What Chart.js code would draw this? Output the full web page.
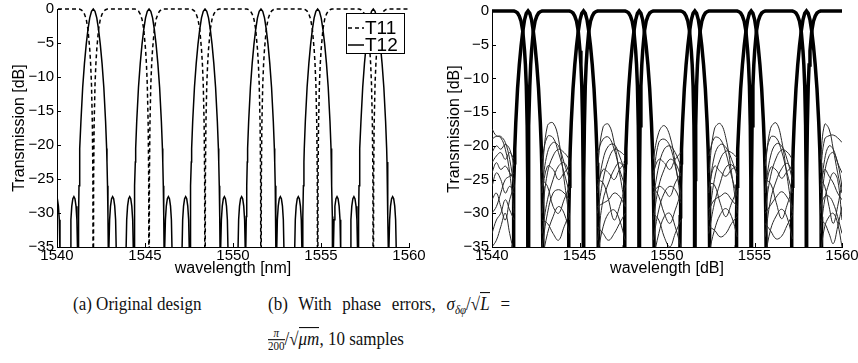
<!DOCTYPE html>
<html>
<head>
<meta charset="utf-8">
<script src="https://cdn.jsdelivr.net/npm/chart.js@4.4.1/dist/chart.umd.min.js"></script>
<style>
  body { margin: 0; background: #fff; }
  #page { position: relative; width: 858px; height: 363px; overflow: hidden; background: #fff; }
  #left { position: absolute; left: 0; top: 0; }
  #right { position: absolute; left: 430px; top: 0; }
  .cap { position: absolute; font-family: "Liberation Serif", "DejaVu Serif", serif; font-size: 17px; line-height: 22px; color: #111; white-space: nowrap; transform: scale(1, 1.1); transform-origin: 0 0; }
  #capA { left: 73px; top: 292px; }
  #capB1 { left: 268px; top: 292px; width: 242px; text-align: justify; text-align-last: justify; }
  #capB2 { left: 268px; top: 327px; }
  .frac { display: inline-block; vertical-align: -5px; text-align: center; font-size: 11px; line-height: 11px; }
  .frac span { display: block; }
  .frac .den { border-top: 1px solid #111; }
  .ol { border-top: 1px solid #111; }
</style>
</head>
<body>
<div id="page">
  <canvas id="left" width="430" height="285"></canvas>
  <canvas id="right" width="428" height="285"></canvas>
  <div class="cap" id="capA">(a) Original design</div>
  <div class="cap" id="capB1">(b) With phase errors, <i>σ</i><sub style="font-size:11px"><i>δφ</i></sub>/√<span class="ol"><i>L</i></span> =</div>
  <div class="cap" id="capB2"><span class="frac"><span><i>π</i></span><span class="den">200</span></span>/√<span class="ol"><i>μm</i></span>, 10 samples</div>
</div>
<script>
// axis ticks
const xTicks = [1540, 1545, 1550, 1555, 1560];
const yTicks = [0, -5, -10, -15, -20, -25, -30, -35];

// passband centres (nm)
const peakWl = [1538.86, 1542.06, 1545.23, 1548.41, 1551.59, 1554.81, 1557.97];

// T12 lobe around each centre: offset (nm) and level (dB)
const t12Dx = [-1.35, -1.31, -1.27, -1.22, -1.16, -1.10, -1.04, -0.98, -0.93, -0.89,
  -0.87, -0.852, -0.835, -0.81, -0.78, -0.76, -0.70, -0.60, -0.50, -0.40,
  -0.30, -0.20, -0.10, 0, 0.10, 0.20, 0.30, 0.40, 0.50, 0.60,
  0.70, 0.76, 0.78, 0.81, 0.835, 0.852, 0.87, 0.89, 0.93, 0.98,
  1.04, 1.10, 1.16, 1.22, 1.27, 1.31, 1.35];
const t12Db = [-60, -36, -31, -29, -27.9, -27.6, -27.9, -29, -31, -36,
  -60, -35, -30.5, -26, -22.5, -20.5, -16.5, -11.5, -8.0, -5.2,
  -3.0, -1.3, -0.35, 0, -0.35, -1.3, -3.0, -5.2, -8.0, -11.5,
  -16.5, -20.5, -22.5, -26, -30.5, -35, -60, -36, -31, -29,
  -27.9, -27.6, -27.9, -29, -31, -36, -60];

// main lobe only (phase-error plot)
const mainDx = [-0.87, -0.852, -0.835, -0.81, -0.78, -0.76, -0.70, -0.60, -0.50, -0.40,
  -0.30, -0.20, -0.10, 0, 0.10, 0.20, 0.30, 0.40, 0.50, 0.60,
  0.70, 0.76, 0.78, 0.81, 0.835, 0.852, 0.87];
const mainDb = [-60, -35, -30.5, -26, -22.5, -20.5, -16.5, -11.5, -8.0, -5.2,
  -3.0, -1.3, -0.35, 0, -0.35, -1.3, -3.0, -5.2, -8.0, -11.5,
  -16.5, -20.5, -22.5, -26, -30.5, -35, -60];

// T11 notch around each centre
const t11Dx = [-0.80, -0.70, -0.60, -0.50, -0.40, -0.30, -0.20, -0.15, -0.10, -0.05, -0.02, 0,
  0.02, 0.05, 0.10, 0.15, 0.20, 0.30, 0.40, 0.50, 0.60, 0.70, 0.80];
const t11Db = [0, -0.1, -0.3, -0.75, -1.5, -3.0, -5.9, -8.0, -11.1, -17, -25, -60,
  -25, -17, -11.1, -8.0, -5.9, -3.0, -1.5, -0.75, -0.3, -0.1, 0];

// stop-band wavelengths between passbands (phase-error plot)
const gapWl = [
  [1540.00, 1540.25, 1540.50, 1540.76, 1541.01, 1541.26],
  [1542.86, 1543.17, 1543.49, 1543.80, 1544.12, 1544.43],
  [1546.03, 1546.35, 1546.66, 1546.98, 1547.29, 1547.61],
  [1549.21, 1549.53, 1549.84, 1550.16, 1550.47, 1550.79],
  [1552.39, 1552.71, 1553.04, 1553.36, 1553.69, 1554.01],
  [1555.61, 1555.92, 1556.24, 1556.55, 1556.86, 1557.17],
  [1558.77, 1559.01, 1559.26, 1559.50, 1559.75, 1560.00]
];

// sidelobe levels of the 10 samples in each stop band (dB)
const gap0Db = [
  [-17.5, -18.5, -18.6, -19.5, -22, -26], [-19, -18.6, -18.8, -20.5, -24, -30],
  [-21, -20, -20.5, -19.8, -20.5, -23], [-22.5, -21.5, -21, -22, -21, -22],
  [-24, -22.5, -23.5, -23, -24, -25], [-26, -24, -25, -27, -26, -27],
  [-28, -27, -29, -31, -28, -26], [-30, -29, -27, -25, -24.5, -24],
  [-33, -31, -30, -28, -29.5, -31], [-35, -34, -32, -30, -33, -36]
];
const gap1Db = [
  [-24, -17.0, -16.6, -19, -25, -31], [-22, -18.6, -18.8, -21, -24, -27],
  [-26, -21, -19.5, -20, -22.5, -25], [-30, -24, -21.5, -20.5, -21, -22],
  [-27, -23, -23.5, -25, -24, -23], [-33, -28, -25, -23, -22.5, -24],
  [-35, -30, -27, -26.5, -27, -28], [-25, -26, -29, -30, -28, -26],
  [-37, -33, -30.5, -29, -30, -33], [-31, -31.5, -33, -34, -32, -30]
];
const gap2Db = [
  [-23, -17.2, -16.8, -19.5, -24, -29], [-21, -19, -18.7, -20.5, -23.5, -26],
  [-27, -22, -20, -19.8, -21.5, -24], [-30, -25, -22, -20.5, -20.8, -21.5],
  [-26, -23.5, -24, -25, -23.5, -22.5], [-34, -28, -25.5, -23.5, -22.5, -23.5],
  [-29, -28.5, -28, -27, -27.5, -29], [-25, -25.5, -28, -31, -29, -26],
  [-36, -32, -30, -29.5, -31, -34], [-32, -33, -34, -33, -31.5, -30]
];
const gap3Db = [
  [-22, -18, -17, -18.5, -22.5, -28], [-25, -19.5, -19, -20, -23, -27],
  [-28, -23, -20.5, -20, -21, -23], [-24, -22, -22.5, -23.5, -22, -21],
  [-31, -26, -23.5, -22, -22.5, -24.5], [-27, -26, -26.5, -27.5, -25.5, -24],
  [-34, -29.5, -27, -26, -26.5, -28.5], [-26, -27.5, -30, -31.5, -29.5, -27],
  [-37, -33, -30.5, -30, -32, -35], [-30, -31, -33.5, -35, -33, -31]
];
const gap4Db = [
  [-24, -17.5, -16.7, -18.8, -24, -30], [-21.5, -18.8, -19, -21, -24.5, -27.5],
  [-27, -21.5, -19.8, -20.2, -22, -24.5], [-31, -25, -22, -20.8, -21, -21.8],
  [-26.5, -23, -23.8, -24.5, -23.5, -23], [-33, -28.5, -25.5, -23.2, -22.8, -24],
  [-29.5, -28, -27.5, -27, -28, -29], [-25.5, -25.8, -28.5, -30.5, -28.5, -26.5],
  [-36, -32.5, -30.2, -29.3, -30.5, -33.5], [-32, -32.5, -33.5, -33, -31.5, -30.5]
];
const gap5Db = [
  [-23, -17.4, -16.6, -19.2, -24.5, -30], [-22, -18.7, -18.8, -20.8, -24, -27],
  [-26.5, -21.5, -19.7, -20, -22, -25], [-29.5, -24.5, -21.8, -20.6, -20.9, -22],
  [-27, -23.2, -23.6, -24.8, -23.8, -23], [-33.5, -28, -25.2, -23.4, -22.6, -23.8],
  [-30, -28.8, -27.6, -26.8, -27.6, -29], [-25, -25.6, -28.4, -30.8, -28.8, -26.2],
  [-36.5, -32.4, -30.4, -29.4, -30.6, -33.8], [-31.5, -32.6, -33.8, -33.4, -31.8, -30.2]
];
const gap6Db = [
  [-22, -16.8, -17.5, -20.5, -24, -27], [-24, -19, -18.5, -18.4, -18.8, -19.5],
  [-27, -22, -20, -20.5, -22.5, -24], [-30, -24, -21.5, -21, -22.5, -26],
  [-26, -23.5, -24.5, -25.5, -27, -28], [-33, -28, -25.5, -24, -25, -31],
  [-29, -27.5, -27.5, -28.5, -30.5, -33], [-25, -26, -29, -31.5, -29, -25.5],
  [-36, -32, -30.5, -30, -31.5, -35], [-31, -31.5, -33, -34.5, -32, -29]
];
const gapDb = [gap0Db, gap1Db, gap2Db, gap3Db, gap4Db, gap5Db, gap6Db];

const FONT = '"Liberation Sans", Arial, Helvetica, sans-serif';

function lobePoints(dx, db, first, last) {
  const pts = [];
  if (first !== undefined) pts.push({x: first[0], y: first[1]});
  peakWl.forEach(c => {
    dx.forEach((d, i) => pts.push({x: +(c + d).toFixed(3), y: db[i]}));
  });
  if (last !== undefined) pts.push({x: last[0], y: last[1]});
  return pts;
}

function samplePoints(s) {
  const pts = [];
  gapWl.forEach((wl, g) => {
    wl.forEach((x, k) => pts.push({x: x, y: gapDb[g][s][k]}));
    pts.push({x: wl[wl.length - 1] + 0.01, y: null});
  });
  return pts;
}

const plotClip = {left: 0, top: 4, right: 0, bottom: 0};

// inward tick marks, MATLAB style
const inwardTicks = {
  id: 'inwardTicks',
  afterDraw(chart) {
    const {ctx, chartArea, scales} = chart;
    ctx.save();
    ctx.strokeStyle = '#000';
    ctx.lineWidth = 1;
    ctx.beginPath();
    xTicks.forEach(v => {
      const px = Math.round(scales.x.getPixelForValue(v)) + 0.5;
      ctx.moveTo(px, chartArea.bottom);
      ctx.lineTo(px, chartArea.bottom - 4);
    });
    yTicks.forEach(v => {
      const py = Math.round(scales.y.getPixelForValue(v)) + 0.5;
      ctx.moveTo(chartArea.left, py);
      ctx.lineTo(chartArea.left + 4, py);
    });
    ctx.stroke();
    ctx.restore();
  }
};

// boxed legend in the top right corner
const boxLegend = {
  id: 'boxLegend',
  afterDraw(chart) {
    if (!chart.options.plugins.boxLegend) return;
    const ctx = chart.ctx;
    const bx = 346.5, by = 13.5, bw = 58, bh = 40;
    ctx.save();
    ctx.fillStyle = '#fff';
    ctx.fillRect(bx, by, bw, bh);
    ctx.strokeStyle = '#000';
    ctx.lineWidth = 1;
    ctx.strokeRect(bx, by, bw, bh);
    const rows = [{label: 'T11', dash: [4, 3], y: 28}, {label: 'T12', dash: [], y: 45}];
    rows.forEach(r => {
      ctx.setLineDash(r.dash);
      ctx.lineWidth = 1.5;
      ctx.beginPath();
      ctx.moveTo(348, r.y);
      ctx.lineTo(364, r.y);
      ctx.stroke();
      ctx.setLineDash([]);
      ctx.fillStyle = '#000';
      ctx.font = '19px ' + FONT;
      ctx.textBaseline = 'middle';
      ctx.fillText(r.label, 365, r.y + 1);
    });
    ctx.restore();
  }
};

function scalesFor(yWidth, yTitlePad, xLabel) {
  const tickFont = {family: FONT, size: 15};
  const titleFont = {family: FONT, size: 16};
  return {
    x: {
      type: 'linear', min: 1540, max: 1560,
      afterBuildTicks: s => { s.ticks = xTicks.map(v => ({value: v})); },
      afterFit: s => { s.height = 38; s.paddingLeft = 0; s.paddingRight = 0; },
      grid: {display: false, drawTicks: false},
      border: {display: true, color: '#000', width: 1},
      ticks: {color: '#000', font: tickFont, padding: 0, maxRotation: 0, autoSkip: false,
        callback: v => String(v)},
      title: {display: true, text: xLabel, color: '#000', font: titleFont, padding: {top: 0, bottom: 7}}
    },
    y: {
      type: 'linear', min: -35, max: 0,
      afterBuildTicks: s => { s.ticks = yTicks.map(v => ({value: v})); },
      afterFit: s => { s.width = yWidth; s.paddingTop = 0; s.paddingBottom = 0; },
      grid: {display: false, drawTicks: false},
      border: {display: true, color: '#000', width: 1},
      ticks: {
        color: '#000', font: tickFont, padding: 3, autoSkip: false,
        callback: v => (v < 0 ? '\u2212' + Math.abs(v) : String(v))
      },
      title: {display: true, text: 'Transmission [dB]', color: '#000', font: titleFont, padding: {top: yTitlePad, bottom: 0}}
    }
  };
}

// (a) original design
new Chart(document.getElementById('left').getContext('2d'), {
  type: 'line',
  data: {
    datasets: [
      {
        label: 'T11',
        data: lobePoints(t11Dx, t11Db, [1537, 0], [1560, 0]),
        borderColor: '#000', borderWidth: 1.5, borderDash: [4, 3],
        pointRadius: 0, tension: 0, clip: plotClip
      },
      {
        label: 'T12',
        data: lobePoints(t12Dx, t12Db, undefined, [1560, -60]),
        borderColor: '#000', borderWidth: 1.5,
        pointRadius: 0, tension: 0, clip: plotClip
      }
    ]
  },
  options: {
    responsive: false, animation: false,
    layout: {padding: {left: 0, right: 21, top: 9, bottom: 0}},
    plugins: {legend: {display: false}, tooltip: {enabled: false}, boxLegend: true},
    scales: scalesFor(57, 9.5, 'wavelength [nm]')
  },
  plugins: [inwardTicks, boxLegend]
});

// (b) 10 samples with phase errors
const sampleSets = [];
for (let s = 0; s < 10; s++) {
  sampleSets.push({
    label: 'sample ' + (s + 1),
    data: samplePoints(s),
    borderColor: '#2a2a2a', borderWidth: 1,
    pointRadius: 0, tension: 0.4, spanGaps: false, clip: plotClip
  });
}

new Chart(document.getElementById('right').getContext('2d'), {
  type: 'line',
  data: {
    datasets: sampleSets.concat([
      {
        label: 'T12',
        data: lobePoints(mainDx, mainDb),
        borderColor: '#000', borderWidth: 3.5,
        pointRadius: 0, tension: 0, clip: plotClip
      },
      {
        label: 'T11',
        data: lobePoints(t11Dx, t11Db, [1537, 0], [1560, 0]),
        borderColor: '#000', borderWidth: 3.5,
        pointRadius: 0, tension: 0, clip: plotClip
      }
    ])
  },
  options: {
    responsive: false, animation: false,
    layout: {padding: {left: 0, right: 16, top: 11, bottom: 0}},
    plugins: {legend: {display: false}, tooltip: {enabled: false}},
    scales: scalesFor(62, 14.5, 'wavelength [dB]')
  },
  plugins: [inwardTicks]
});
</script>
</body>
</html>
